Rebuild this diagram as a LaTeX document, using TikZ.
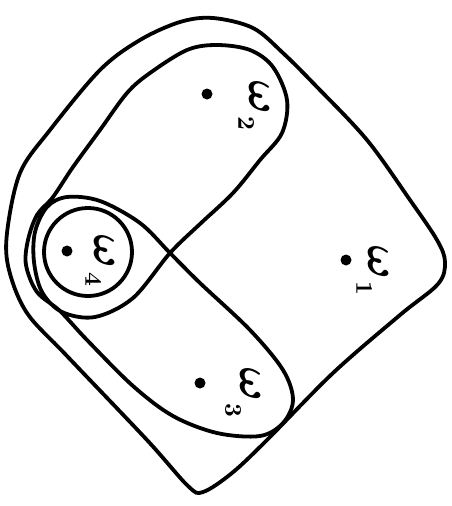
\documentclass[tikz,border=0pt]{standalone}
\usepackage{amsmath}
\begin{document}
\begin{tikzpicture}[x=1pt,y=-1pt]
\tikzset{
  curve/.style={line width=3.8pt, line join=round, line cap=round},
  pt/.style={circle, fill, inner sep=0pt, minimum size=11pt},
  lbl/.style={rotate=-90, inner sep=0pt, scale=4.5, font=\boldmath},
  sub/.style={rotate=-90, inner sep=0pt, scale=2.4, font=\boldmath},
  ring/.style={draw, circle, line width=3.8pt, minimum size=88pt, inner sep=0pt}
}
\useasboundingbox (0,0) rectangle (452,506);
% outer set
\draw[curve] plot[smooth cycle, tension=0.55] coordinates {
 (213,18) (253,28) (283,53) (317,87) (367,140) (410,200) (437,240) (445,262)
 (438,284) (400,315) (333,373) (267,440) (232,473) (203,492) (188,486)
 (147,440) (67,356) (27,313) (9,270) (7,233) (20,173) (50,130) (100,70)
 (140,40) (180,22)};
% self-crossing curve (two overlapping capsules)
\draw[curve] plot[smooth cycle, tension=0.55] coordinates {
 (217,45) (250,50) (273,67) (287,100) (282,133) (260,160) (233,193) (200,224)
 (170,253) (133,298) (95,317) (62,312) (42,292) (34,262) (35,232) (47,207)
 (67,197) (100,201) (140,223) (170,253) (200,283) (250,330) (283,370)
 (293,400) (283,423) (260,436) (217,433) (173,416) (133,386) (87,340)
 (60,311) (37,292) (26,265) (28,240) (37,215) (53,197) (73,167) (100,130)
 (127,93) (150,73) (187,50)};
% circle around omega_4
\node[ring] (c4) at (88,252) {};
% points and labels
\node[pt] (d1) at (346,260) {};
\node[lbl] (l1) at (378,262) {$\omega$};
\node[sub] (s1) at (364,288) {$1$};
\node[pt] (d2) at (207,94) {};
\node[lbl] (l2) at (259,97) {$\omega$};
\node[sub] (s2) at (246,123) {$2$};
\node[pt] (d3) at (200,383) {};
\node[lbl] (l3) at (250,384) {$\omega$};
\node[sub] (s3) at (233,410) {$3$};
\node[pt] (d4) at (67,251) {};
\node[lbl] (l4) at (104,251) {$\omega$};
\node[sub] (s4) at (93,279) {$4$};
\end{tikzpicture}
\end{document}
